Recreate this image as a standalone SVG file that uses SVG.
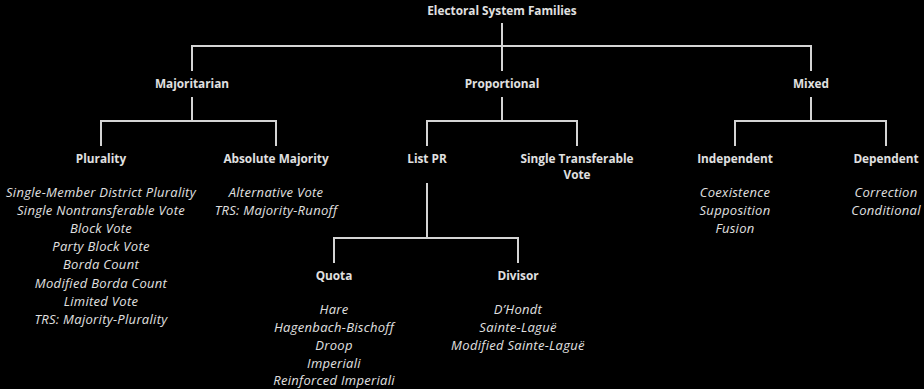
<svg xmlns="http://www.w3.org/2000/svg" width="924" height="389" viewBox="0 0 924 389">
<style>
.bg{fill:#000}
.h{font-family:"Open Sans","Noto Sans","DejaVu Sans",sans-serif;font-size:11.8px;font-weight:bold;fill:#e0e0e0;text-anchor:middle}
.i{font-family:"Open Sans","Noto Sans","DejaVu Sans",sans-serif;font-size:13px;letter-spacing:0.3px;font-style:italic;fill:#e0e0e0;text-anchor:middle}
.c{fill:none;stroke:#d4d4d4;stroke-width:2}
</style>
<rect class="bg" x="0" y="0" width="924" height="389"/>
<g id="connectors">
<path class="c" d="M502 23V71M192 71V46H811V71"/>
<path class="c" d="M192 97V121M101 146V121H276V146"/>
<path class="c" d="M502 97V121M427 146V121H577V146"/>
<path class="c" d="M811 97V121M735 146V121H886V146"/>
<path class="c" d="M427 183V238M334 263V238H518V263"/>
</g>
<g id="root"><text class="h" x="502" y="15">Electoral System Families</text></g>
<g id="majoritarian"><text class="h" x="192" y="88">Majoritarian</text></g>
<g id="proportional"><text class="h" x="502" y="88">Proportional</text></g>
<g id="mixed"><text class="h" x="811" y="88">Mixed</text></g>
<g id="plurality"><text class="h" x="101" y="163">Plurality</text>
<text class="i" x="101" y="197">Single-Member District Plurality</text>
<text class="i" x="101" y="215">Single Nontransferable Vote</text>
<text class="i" x="101" y="233">Block Vote</text>
<text class="i" x="101" y="251">Party Block Vote</text>
<text class="i" x="101" y="269">Borda Count</text>
<text class="i" x="101" y="288">Modified Borda Count</text>
<text class="i" x="101" y="306">Limited Vote</text>
<text class="i" x="101" y="324">TRS: Majority-Plurality</text>
</g>
<g id="absolute-majority"><text class="h" x="276" y="163">Absolute Majority</text>
<text class="i" x="276" y="197">Alternative Vote</text>
<text class="i" x="276" y="215">TRS: Majority-Runoff</text>
</g>
<g id="list-pr"><text class="h" x="427" y="163">List PR</text></g>
<g id="stv"><text class="h" x="577" y="163">Single Transferable</text><text class="h" x="577" y="179">Vote</text></g>
<g id="independent"><text class="h" x="735" y="163">Independent</text>
<text class="i" x="735" y="197">Coexistence</text>
<text class="i" x="735" y="215">Supposition</text>
<text class="i" x="735" y="233">Fusion</text>
</g>
<g id="dependent"><text class="h" x="886" y="163">Dependent</text>
<text class="i" x="886" y="197">Correction</text>
<text class="i" x="886" y="215">Conditional</text>
</g>
<g id="quota"><text class="h" x="334" y="280">Quota</text>
<text class="i" x="334" y="314">Hare</text>
<text class="i" x="334" y="332">Hagenbach-Bischoff</text>
<text class="i" x="334" y="350">Droop</text>
<text class="i" x="334" y="368">Imperiali</text>
<text class="i" x="334" y="385">Reinforced Imperiali</text>
</g>
<g id="divisor"><text class="h" x="518" y="280">Divisor</text>
<text class="i" x="518" y="314">D’Hondt</text>
<text class="i" x="518" y="332">Sainte-Laguë</text>
<text class="i" x="518" y="350">Modified Sainte-Laguë</text>
</g>
</svg>
